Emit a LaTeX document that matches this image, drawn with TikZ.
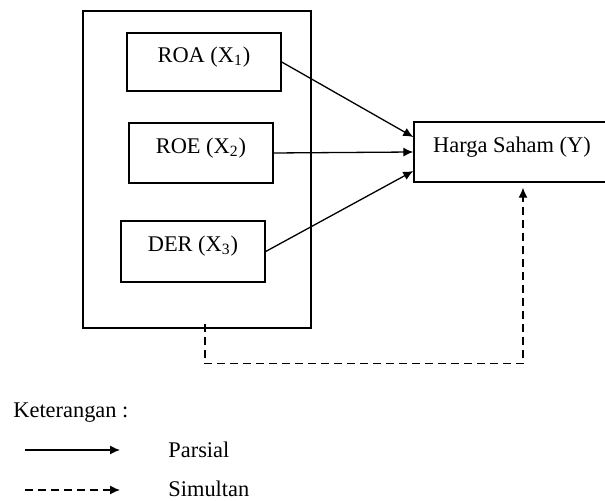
\documentclass[tikz,border=0pt]{standalone}
\usepackage{fontspec}
\setmainfont{Liberation Serif}
\usetikzlibrary{arrows.meta}
\usetikzlibrary{positioning}

\begin{document}
\begin{tikzpicture}[x=0.5pt, y=-0.5pt,
		varbox/.style={draw, line width=0.7pt, inner sep=0pt, text height=8.2pt, text depth=8pt, font=\fontsize{11.2}{13}\selectfont},
		parsial/.style={-{Latex[length=5pt, width=4.5pt]}, line width=0.65pt},
		simultan/.style={-{Latex[length=5pt, width=4.5pt]}, line width=0.65pt, dash pattern=on 4pt off 2.5pt},
		legtext/.style={anchor=west, inner sep=0pt, font=\fontsize{11.2}{13}\selectfont}]
					\useasboundingbox (0,0) rectangle (605,501);
					\clip (0,0) rectangle (605,501);
					% draw boxes
					\node[draw, line width=0.7pt, minimum width=114pt, minimum height=158.5pt] (grp) at (197,169.5) {};
					\node[varbox, minimum width=77pt, minimum height=29pt] (roa) at (204,62) {ROA (X\textsubscript{1})};
					\node[varbox, minimum width=72pt, minimum height=30pt] (roe) at (201,153) {ROE (X\textsubscript{2})};
					\node[varbox, minimum width=72pt, minimum height=30.5pt] (der) at (193,251.5) {DER (X\textsubscript{3})};
					\node[varbox, minimum width=98pt, minimum height=30pt] (y) at (512,152) {Harga Saham (Y)};
					% draw arrows
					\draw[parsial] (roa.east) -- ([yshift=7.5pt]y.west);
					\draw[parsial] (roe.east) -- (y.west);
					\draw[parsial] (der.east) -- ([yshift=-9.5pt]y.west);
					\draw[simultan] ([xshift=4pt, yshift=2.5pt]grp.south) -- ++(0,40) -| ([xshift=5.5pt, yshift=-2.5pt]y.south);
					% legend
					\node[legtext] (ket) at (13,413) {Keterangan :};
					\coordinate (p0) at (25,450);
					\coordinate (p1) at (120,450);
					\coordinate (s0) at (25,490);
					\coordinate (s1) at (120,490);
					\draw[parsial] (p0) -- (p1);
					\draw[simultan] (s0) -- (s1);
					\node[legtext] (par) at (168,450) {Parsial};
					\node[legtext] (sim) at (168,489) {Simultan};
				\end{tikzpicture}
\end{document}
